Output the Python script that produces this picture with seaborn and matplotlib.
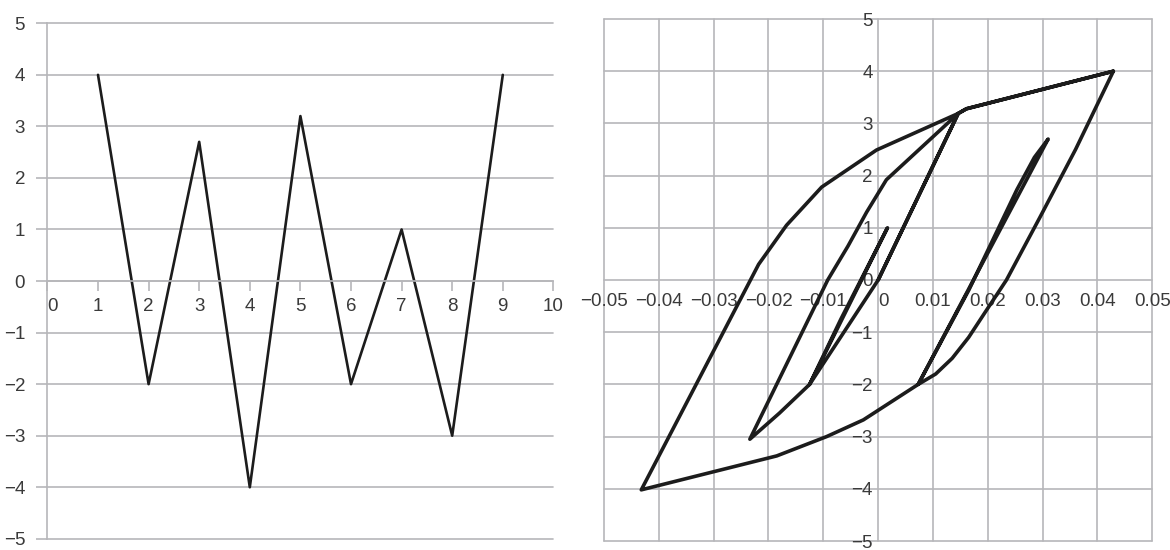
import matplotlib
matplotlib.use("Agg")
import matplotlib.pyplot as plt
import seaborn as sns

# Load history: target level at each step
step = [1, 2, 3, 4, 5, 6, 7, 8, 9]
load = [4, -2, 2.7, -4, 3.2, -2, 1, -3, 4]

# Force-deformation response following that history
deform = [
    0.0, 0.0146, 0.0161, 0.0429,
    0.0360, 0.0295, 0.0234, 0.0195, 0.0165, 0.0135, 0.0105, 0.0073,
    0.0165, 0.0253, 0.0285, 0.0310,
    0.0073,
    -0.0027, -0.0094, -0.0185, -0.0432,
    -0.0218, -0.0167, -0.0103, -0.0003, 0.0146,
    0.0, -0.0125,
    0.0017,
    -0.0068, -0.0125, -0.0180, -0.0234,
    -0.0092, -0.0055, -0.0021, 0.0015, 0.0146, 0.0161, 0.0429,
]
force = [
    0.0, 3.19, 3.28, 4.0,
    2.5, 1.2, 0.0, -0.62, -1.1, -1.5, -1.8, -2.0,
    -0.2, 1.73, 2.35, 2.7,
    -2.0,
    -2.68, -3.0, -3.37, -4.02,
    0.3, 1.05, 1.78, 2.49, 3.19,
    0.0, -2.0,
    1.0,
    -0.75, -2.0, -2.55, -3.05,
    0.0, 0.65, 1.3, 1.92, 3.19, 3.28, 4.0,
]

step_ticks = list(range(0, 11))
level_ticks = list(range(-5, 6))
deform_ticks = [-0.05, -0.04, -0.03, -0.02, -0.01, 0, 0.01, 0.02, 0.03, 0.04, 0.05]
deform_labels = ["−0.05", "−0.04", "−0.03", "−0.02", "−0.01", "0",
                 "0.01", "0.02", "0.03", "0.04", "0.05"]

sns.set_theme(style="white")
plt.rcParams["font.family"] = ["Liberation Sans", "DejaVu Sans"]
plt.rcParams["axes.unicode_minus"] = True

GRID = "#b6b6ba"
TEXT = "#3a3a3a"
INK = "#1c1c1c"
FS = 13.5

W, H = 1170, 550
fig = plt.figure(figsize=(W / 100, H / 100), dpi=100)
fig.patch.set_facecolor("white")

# ---- left: load history ----
ax1 = fig.add_axes([47.4 / W, 1 - 538.8 / H, 506.0 / W, 515.5 / H])
sns.lineplot(x=step, y=load, ax=ax1, color=INK, linewidth=1.9)
ax1.set_xlim(0, 10)
ax1.set_ylim(-5, 5)
ax1.set_xticks(step_ticks)
ax1.set_yticks(level_ticks)
ax1.set_xticklabels([str(v) for v in step_ticks])
ax1.set_yticklabels([str(v).replace("-", "−") for v in level_ticks])
ax1.set_xlabel("")
ax1.set_ylabel("")
ax1.yaxis.grid(True, color=GRID, linewidth=1.2, clip_on=False)
ax1.xaxis.grid(False)
ax1.set_axisbelow(True)
for side in ("top", "right"):
    ax1.spines[side].set_visible(False)
ax1.spines["bottom"].set_position(("data", 0))
for side in ("bottom", "left"):
    ax1.spines[side].set_color(GRID)
    ax1.spines[side].set_linewidth(1.2)
ax1.tick_params(axis="x", direction="out", length=7, width=1.2, color=GRID,
                pad=5, labelsize=FS, labelcolor=TEXT, bottom=True)
ax1.tick_params(axis="y", direction="out", length=8, width=1.2, color=GRID,
                pad=8, labelsize=FS, labelcolor=TEXT, left=True)
ax1.xaxis.get_major_ticks()[0].label1.set_horizontalalignment("left")

# ---- right: force-deformation loops ----
ax2 = fig.add_axes([604.0 / W, 1 - 541.0 / H, 548.3 / W, 522.0 / H])
sns.lineplot(x=deform, y=force, sort=False, estimator=None, ax=ax2,
             color=INK, linewidth=2.6)
ax2.set_xlim(-0.05, 0.05)
ax2.set_ylim(-5, 5)
ax2.set_xticks(deform_ticks)
ax2.set_xticklabels(deform_labels)
ax2.set_yticks(level_ticks)
ax2.set_yticklabels([str(v).replace("-", "−") for v in level_ticks])
ax2.set_xlabel("")
ax2.set_ylabel("")
ax2.grid(True, color=GRID, linewidth=1.2, clip_on=False)
ax2.set_axisbelow(True)
ax2.spines["bottom"].set_position(("data", 0))
ax2.spines["left"].set_position(("data", 0))
for side in ax2.spines:
    ax2.spines[side].set_visible(False)
ax2.tick_params(axis="x", length=0, pad=9, labelsize=FS, labelcolor=TEXT)
ax2.tick_params(axis="y", length=0, pad=4, labelsize=FS, labelcolor=TEXT)
ax2.xaxis.get_major_ticks()[5].label1.set_horizontalalignment("left")

fig.savefig("out.png", dpi=100, facecolor="white")
